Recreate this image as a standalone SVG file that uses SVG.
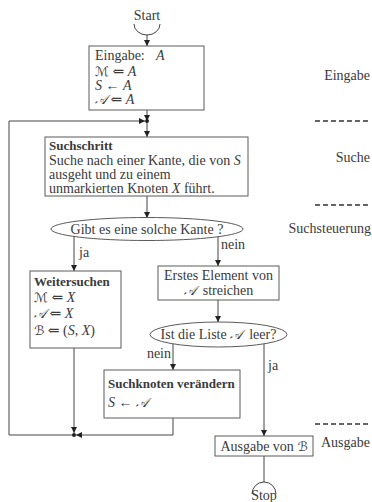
<svg xmlns="http://www.w3.org/2000/svg" width="372" height="502" viewBox="0 0 372 502">
<style>
text{font-family:"Liberation Serif","DejaVu Serif",serif;font-size:14px;fill:#3a3a3a}
.b{font-weight:bold;font-size:13px}
.m{font-style:italic}
.c{font-family:"DejaVu Serif","DejaVu Sans","Noto Sans",serif;font-style:italic;font-size:13px}
.mid{text-anchor:middle}
.end{text-anchor:end}
.box{fill:#fff;stroke:#5a5a5a;stroke-width:1}
.ln{fill:none;stroke:#444;stroke-width:1}
.dash{fill:none;stroke:#333;stroke-width:1.3;stroke-dasharray:5,3}
</style>
<defs>
<marker id="ar" markerWidth="8" markerHeight="8" refX="6" refY="3" orient="auto" markerUnits="userSpaceOnUse">
<path d="M0,0 L6,3 L0,6 Z" fill="#222"/>
</marker>
</defs>

<g id="labels">
<text class="end" x="370" y="80">Eingabe</text>
<line class="dash" x1="315" y1="121" x2="370" y2="121"/>
<text class="end" x="370" y="162">Suche</text>
<line class="dash" x1="315" y1="205" x2="370" y2="205"/>
<text class="end" x="371" y="233">Suchsteuerung</text>
<line class="dash" x1="315" y1="424" x2="370" y2="424"/>
<text class="end" x="370" y="447">Ausgabe</text>
</g>

<g id="connectors">
<path class="ln" d="M134,24 A13,11 0 0 0 160,24"/>
<path class="ln" d="M147,35 V46" marker-end="url(#ar)"/>
<path class="ln" d="M147,110 V121" marker-end="url(#ar)"/>
<path class="ln" d="M147,121 V137" marker-end="url(#ar)"/>
<path class="ln" d="M74,435 H9 V121 H145" marker-end="url(#ar)"/>
<circle cx="147" cy="121" r="2" fill="#222"/>
<path class="ln" d="M147,196 V218" marker-end="url(#ar)"/>
<path class="ln" d="M74,236 V271" marker-end="url(#ar)"/>
<path class="ln" d="M218,236 V266" marker-end="url(#ar)"/>
<path class="ln" d="M218,300 V322" marker-end="url(#ar)"/>
<path class="ln" d="M173,344 V370" marker-end="url(#ar)"/>
<path class="ln" d="M264,344 V436" marker-end="url(#ar)"/>
<path class="ln" d="M74,348 V433" marker-end="url(#ar)"/>
<path class="ln" d="M173,418 V435 H76" marker-end="url(#ar)"/>
<circle cx="74" cy="435" r="2" fill="#222"/>
<path class="ln" d="M264,456 V482"/>
<path class="ln" d="M252,494 A12,12 0 0 1 276,494"/>
<text x="79" y="257">ja</text>
<text x="221" y="249">nein</text>
<text class="end" x="171" y="358">nein</text>
<text x="268" y="370">ja</text>
</g>

<g id="start">
<text class="mid" x="147" y="20">Start</text>
</g>

<g id="eingabe">
<rect class="box" x="89" y="46" width="115" height="64"/>
<text x="95" y="60">Eingabe:<tspan class="m" x="156">A</tspan></text>
<text x="95" y="76"><tspan class="c">ℳ</tspan> ⇐ <tspan class="m">A</tspan></text>
<text x="95" y="90"><tspan class="m">S</tspan> ← <tspan class="m">A</tspan></text>
<text x="95" y="104"><tspan class="c">𝒜</tspan> ⇐ <tspan class="m">A</tspan></text>
</g>

<g id="suchschritt">
<rect class="box" x="45" y="137" width="203" height="59"/>
<text class="b" x="49" y="150">Suchschritt</text>
<text x="49" y="165">Suche nach einer Kante, die von <tspan class="m">S</tspan></text>
<text x="49" y="179">ausgeht und zu einem</text>
<text x="49" y="193">unmarkierten Knoten <tspan class="m">X</tspan> führt.</text>
</g>

<g id="frage1">
<ellipse class="box" cx="147" cy="229" rx="96" ry="11.5"/>
<text class="mid" x="147" y="234">Gibt es eine solche Kante ?</text>
</g>

<g id="weitersuchen">
<rect class="box" x="30" y="271" width="91" height="77"/>
<text class="b" x="34" y="286">Weitersuchen</text>
<text x="34" y="302"><tspan class="c">ℳ</tspan> ⇐ <tspan class="m">X</tspan></text>
<text x="34" y="318"><tspan class="c">𝒜</tspan> ⇐ <tspan class="m">X</tspan></text>
<text x="34" y="335"><tspan class="c">ℬ</tspan> ⇐ (<tspan class="m">S</tspan>, <tspan class="m">X</tspan>)</text>
</g>

<g id="erstes">
<rect class="box" x="158" y="266" width="121" height="34"/>
<text class="mid" x="218.5" y="280">Erstes Element von</text>
<text class="mid" x="218.5" y="295" xml:space="preserve"><tspan class="c">𝒜</tspan>  streichen</text>
</g>

<g id="frage2">
<ellipse class="box" cx="218.5" cy="334.5" rx="68.5" ry="12.5"/>
<text class="mid" x="218.5" y="339" xml:space="preserve">Ist die Liste <tspan class="c">𝒜</tspan>  leer?</text>
</g>

<g id="suchknoten">
<rect class="box" x="104" y="370" width="136" height="48"/>
<text class="b" x="108" y="388">Suchknoten verändern</text>
<text x="108" y="407"><tspan class="m">S</tspan> ← <tspan class="c">𝒜</tspan></text>
</g>

<g id="ausgabe">
<rect class="box" x="215" y="436" width="98" height="20"/>
<text class="mid" x="264" y="451">Ausgabe von <tspan class="c">ℬ</tspan></text>
</g>

<g id="stop">
<text class="mid" x="264" y="500">Stop</text>
</g>
</svg>
